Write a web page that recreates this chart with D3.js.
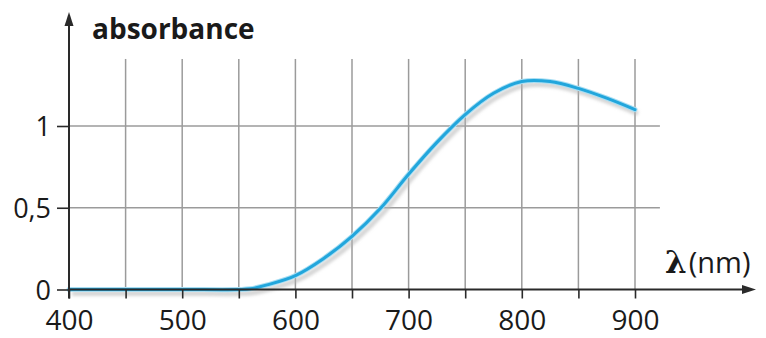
<!DOCTYPE html>
<html>
<head>
<meta charset="utf-8">
<script src="https://cdn.jsdelivr.net/npm/d3@7"></script>
<style>
  html, body { margin: 0; padding: 0; background: #fff; }
  svg { display: block; }
  text { font-family: "Open Sans", "Noto Sans", sans-serif; fill: #1a1a1a; }
</style>
</head>
<body>
<svg id="chart" width="766" height="338"></svg>
<script>
// Absorption spectrum: wavelength (nm) vs absorbance
const wavelengths = [400, 450, 500, 550, 560, 575, 600, 625, 650, 675, 700, 725, 750, 775, 800, 825, 850, 875, 900];
const absorbance  = [0, 0, 0, 0, 0.004, 0.028, 0.085, 0.19, 0.325, 0.495, 0.705, 0.9, 1.07, 1.2, 1.272, 1.272, 1.23, 1.17, 1.1];

const xTicks = [400, 450, 500, 550, 600, 650, 700, 750, 800, 850, 900];
const xLabels = [400, 500, 600, 700, 800, 900];
const yTicks = [0, 0.5, 1];

const svg = d3.select("#chart");

const x = d3.scaleLinear().domain([400, 900]).range([69, 635]);
const y = d3.scaleLinear().domain([0, 1]).range([289.5, 126]);

const gridColor = "#9b9b9b";
const axisColor = "#2a2a2a";
const fr = d3.formatLocale({ decimal: ",", thousands: " ", grouping: [3], currency: ["", " €"] });
const yFmt = fr.format("~g");

// Grid: vertical lines every 50 nm, horizontal at 0,5 and 1
const grid = svg.append("g");
grid.selectAll("line.v")
  .data(xTicks.slice(1))
  .join("line")
  .attr("x1", d => x(d)).attr("x2", d => x(d))
  .attr("y1", y(1.41)).attr("y2", y(0))
  .attr("stroke", gridColor).attr("stroke-width", 1.5);
grid.selectAll("line.h")
  .data(yTicks.slice(1))
  .join("line")
  .attr("x1", x(400)).attr("x2", x(922))
  .attr("y1", d => y(d)).attr("y2", d => y(d))
  .attr("stroke", gridColor).attr("stroke-width", 1.5);

// Curve with a soft grey shadow beneath
const line = d3.line()
  .x((d, i) => x(wavelengths[i]))
  .y(d => y(Math.max(0, d)))
  .curve(d3.curveCatmullRom.alpha(0.5));

const defs = svg.append("defs");
defs.append("filter").attr("id", "soft")
  .attr("x", "-10%").attr("y", "-10%").attr("width", "120%").attr("height", "130%")
  .append("feGaussianBlur").attr("stdDeviation", 1.8);

svg.append("path")
  .datum(absorbance)
  .attr("d", line)
  .attr("transform", "translate(3,4)")
  .attr("fill", "none")
  .attr("stroke", "#b5b5b5")
  .attr("stroke-opacity", 0.55)
  .attr("stroke-width", 5)
  .attr("filter", "url(#soft)");

svg.append("path")
  .datum(absorbance)
  .attr("d", line)
  .attr("fill", "none")
  .attr("stroke", "#a8def3")
  .attr("stroke-width", 5)
  .attr("stroke-linecap", "round");

svg.append("path")
  .datum(absorbance)
  .attr("d", line)
  .attr("fill", "none")
  .attr("stroke", "#22a6dc")
  .attr("stroke-width", 3)
  .attr("stroke-linecap", "round");

// X axis
const xAxis = d3.axisBottom(x)
  .tickValues(xTicks)
  .tickSize(9)
  .tickPadding(12)
  .tickFormat(d => xLabels.includes(d) ? d : "");
const gx = svg.append("g").attr("transform", `translate(0,${y(0)})`).call(xAxis);
gx.select(".domain").remove();
gx.selectAll(".tick line").attr("stroke", axisColor).attr("stroke-width", 1.6);
gx.selectAll(".tick text").attr("font-size", 28).attr("fill", "#1a1a1a").attr("dy", "0.68em");

// Y axis
const yAxis = d3.axisLeft(y)
  .tickValues(yTicks)
  .tickSize(12)
  .tickPadding(6)
  .tickFormat(yFmt);
const gy = svg.append("g").attr("transform", `translate(${x(400)},0)`).call(yAxis);
gy.select(".domain").remove();
gy.selectAll(".tick line").attr("stroke", axisColor).attr("stroke-width", 1.6);
gy.selectAll(".tick text").attr("font-size", 27).attr("fill", "#1a1a1a").attr("dy", "0.36em");

// Axis lines with arrowheads
const ax = svg.append("g").attr("stroke", axisColor).attr("stroke-width", 2);
ax.append("line").attr("x1", x(400)).attr("x2", x(400)).attr("y1", y(0) + 9).attr("y2", 20);
ax.append("line").attr("x1", x(400)).attr("x2", 748).attr("y1", y(0)).attr("y2", y(0));
svg.append("path")
  .attr("d", `M${x(400)},12 L${x(400) - 4.5},26 L${x(400) + 4.5},26 Z`)
  .attr("fill", axisColor);
svg.append("path")
  .attr("d", `M756,${y(0)} L742,${y(0) - 4.5} L742,${y(0) + 4.5} Z`)
  .attr("fill", axisColor);

// Axis titles
svg.append("text")
  .attr("x", 92).attr("y", 39)
  .attr("font-size", 28).attr("font-weight", 700)
  .text("absorbance");

const xt = svg.append("text").attr("x", 665).attr("y", 273);
xt.append("tspan")
  .attr("font-family", "'DejaVu Serif', serif")
  .attr("font-weight", 700).attr("font-size", 31)
  .text("λ");
xt.append("tspan").attr("dx", 2).attr("font-size", 29).text("(nm)");
</script>
</body>
</html>
